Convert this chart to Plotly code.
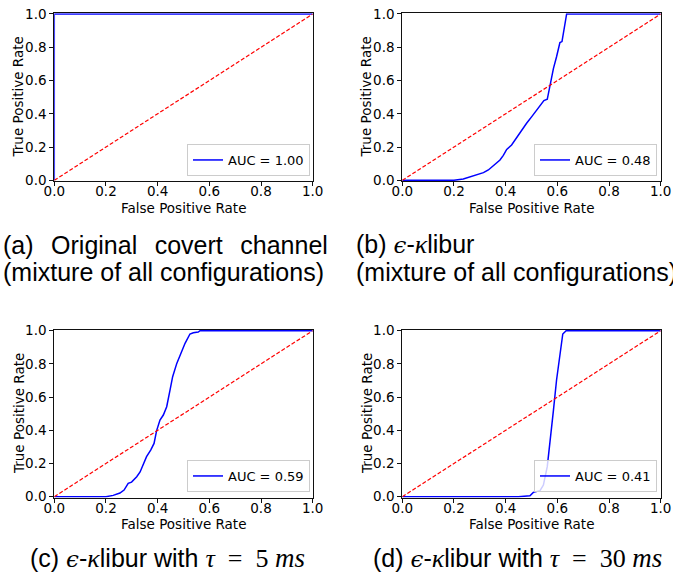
import plotly.graph_objects as go

# ---------------- data ----------------
fpr_a = [0.0, 0.0, 1.0]
tpr_a = [0.0, 1.0, 1.0]

fpr_b = [0.0, 0.20, 0.236, 0.275, 0.314, 0.333, 0.352, 0.378, 0.391, 0.404, 0.423,
         0.443, 0.462, 0.481, 0.501, 0.520, 0.539, 0.548, 0.561, 0.572, 0.585,
         0.597, 0.610, 0.618, 0.636, 1.0]
tpr_b = [0.0, 0.0, 0.008, 0.028, 0.046, 0.062, 0.088, 0.122, 0.150, 0.186, 0.212,
         0.259, 0.303, 0.343, 0.383, 0.423, 0.463, 0.479, 0.487, 0.573, 0.673,
         0.743, 0.828, 0.834, 1.0, 1.0]

fpr_c = [0.0, 0.20, 0.228, 0.254, 0.270, 0.286, 0.299, 0.319, 0.332, 0.345, 0.357,
         0.373, 0.386, 0.396, 0.409, 0.422, 0.435, 0.448, 0.458, 0.474, 0.486,
         0.506, 0.525, 0.538, 0.557, 0.564, 1.0]
tpr_c = [0.0, 0.0, 0.008, 0.022, 0.040, 0.080, 0.088, 0.120, 0.149, 0.197, 0.241,
         0.281, 0.321, 0.398, 0.462, 0.492, 0.542, 0.643, 0.723, 0.803, 0.853,
         0.924, 0.980, 0.988, 0.992, 1.0, 1.0]

fpr_d = [0.0, 0.449, 0.494, 0.507, 0.533, 0.546, 0.561, 0.572, 0.585, 0.597, 0.610,
         0.621, 0.634, 1.0]
tpr_d = [0.0, 0.0, 0.006, 0.026, 0.036, 0.070, 0.181, 0.321, 0.522, 0.703, 0.863,
         0.980, 1.0, 1.0]

auc_labels = ["AUC = 1.00", "AUC = 0.48", "AUC = 0.59", "AUC = 0.41"]
chance_x = [0.0, 1.0]
chance_y = [0.0, 1.0]
tick_vals = [0.0, 0.2, 0.4, 0.6, 0.8, 1.0]
tick_text = ["0.0", "0.2", "0.4", "0.6", "0.8", "1.0"]
x_title = "False Positive Rate"
y_title = "True Positive Rate"

# ---------------- layout geometry ----------------
W, H = 673, 574
PAD = 0.005  # tiny y-range padding so TPR=0/1 lines sit just inside the frame

def px_x(v):
    return v / W
def px_y(v):
    return 1 - v / H

def ydom(bottom, top):
    span = bottom - top
    return [px_y(bottom + PAD * span), px_y(top - PAD * span)]

col_px = [(54.3, 312.7), (402.3, 660.7)]
row_px = [(180.3, 14), (496.7, 330.7)]
col_dom = [[px_x(l), px_x(r)] for l, r in col_px]
row_dom = [ydom(b, t) for b, t in row_px]

panels = [
    (fpr_a, tpr_a, 0, 0),
    (fpr_b, tpr_b, 0, 1),
    (fpr_c, tpr_c, 1, 0),
    (fpr_d, tpr_d, 1, 1),
]
legend_pos = [(310, 176), (657, 176), (310, 492), (657, 492)]

fig = go.Figure()
tick_font = dict(family="DejaVu Sans", size=13.5, color="black")
title_font = dict(family="DejaVu Sans", size=13.5, color="black")
layout = dict(
    width=W, height=H,
    margin=dict(l=0, r=0, t=0, b=0, autoexpand=False),
    paper_bgcolor="white", plot_bgcolor="white",
    showlegend=True,
)

annotations = []
for i, (fx, ty, r, c) in enumerate(panels):
    sfx = "" if i == 0 else str(i + 1)
    leg = "legend" if i == 0 else "legend" + str(i + 1)
    fig.add_trace(go.Scatter(
        x=fx, y=ty, mode="lines", name=auc_labels[i],
        line=dict(color="#0000ff", width=1.5),
        xaxis="x" + sfx, yaxis="y" + sfx, legend=leg, hoverinfo="skip"))
    fig.add_trace(go.Scatter(
        x=chance_x, y=chance_y, mode="lines", showlegend=False,
        line=dict(color="#ff0000", width=1.2, dash="4px,2px"),
        xaxis="x" + sfx, yaxis="y" + sfx, hoverinfo="skip"))
    common = dict(showline=True, mirror=True, linecolor="#111111",
                  linewidth=1, ticks="outside", ticklen=4, tickwidth=1,
                  tickcolor="#111111", tickvals=tick_vals, ticktext=tick_text,
                  showgrid=False, zeroline=False, tickfont=tick_font,
                  automargin=False, fixedrange=True)
    layout["xaxis" + sfx] = dict(common, range=[0, 1], domain=col_dom[c],
                                 anchor="y" + sfx, ticklabelstandoff=-6)
    layout["yaxis" + sfx] = dict(common, range=[-PAD, 1 + PAD], domain=row_dom[r],
                                 anchor="x" + sfx)
    lx, ly = legend_pos[i]
    layout[leg] = dict(x=px_x(lx), y=px_y(ly), xanchor="right", yanchor="bottom",
                       xref="paper", yref="paper",
                       bgcolor="rgba(255,255,255,0.8)", bordercolor="#cccccc",
                       borderwidth=1, font=dict(family="DejaVu Sans", size=13, color="black"))
    # axis titles as annotations for precise placement
    l, rr = col_px[c]
    b, t = row_px[r]
    annotations.append(dict(text=x_title, x=px_x((l + rr) / 2), y=px_y(b + 27.5),
                            xref="paper", yref="paper", xanchor="center", yanchor="middle",
                            showarrow=False, font=title_font))
    annotations.append(dict(text=y_title, x=px_x(l - 36), y=px_y((b + t) / 2),
                            xref="paper", yref="paper", xanchor="center", yanchor="middle",
                            textangle=-90, showarrow=False, font=title_font))

fig.update_layout(**layout)
for a in annotations:
    fig.add_annotation(**a)

# ---------------- captions ----------------
cap_font = dict(family="Liberation Sans", size=25, color="black")
def m(t, fam="Liberation Serif", size=26):
    return ('<span style="font-family:' + fam + ';font-style:italic;font-size:'
            + str(size) + 'px">' + t + '</span>')
def rm(t):
    return '<span style="font-family:Liberation Serif;font-size:26px">' + t + '</span>'
gap = "\u2002\u2009"
eq = "\u2002=\u2002"
eps_kap = m("\u03f5", "DejaVu Serif", 23) + "-" + m("\u03ba") + "libur"

captions = [
    ("(a)" + gap + "Original" + gap + "covert" + gap + "channel", 2, 245, "left"),
    ("(mixture of all configurations)", 2, 272, "left"),
    ("(b) " + eps_kap, 355, 245, "left"),
    ("(mixture of all configurations)", 355, 272, "left"),
    ("(c) " + eps_kap + " with " + m("\u03c4") + rm(eq + "5 ") + m("ms", size=27), 167.5, 558, "center"),
    ("(d) " + eps_kap + " with " + m("\u03c4") + rm(eq + "30 ") + m("ms", size=27), 517, 558, "center"),
]
for text, cx, cy, anc in captions:
    fig.add_annotation(text=text, x=px_x(cx), y=px_y(cy), xref="paper", yref="paper",
                       xanchor=anc, yanchor="middle", align="left", showarrow=False,
                       font=cap_font, borderpad=0)

fig.write_html("out.html")
